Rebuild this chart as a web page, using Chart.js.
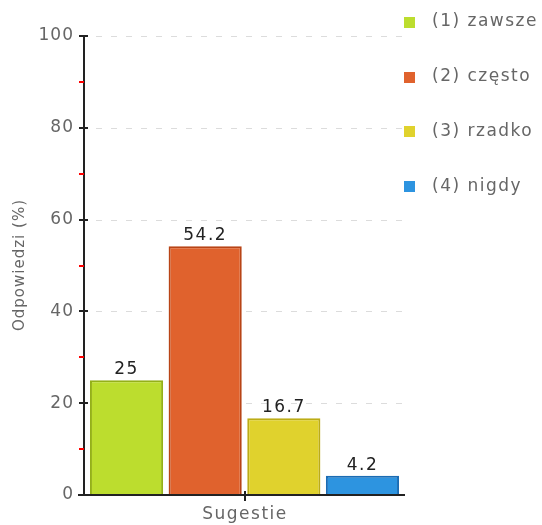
<!DOCTYPE html>
<html>
<head>
<meta charset="utf-8">
<script src="https://cdn.jsdelivr.net/npm/chart.js@4"></script>
<style>
  html, body { margin: 0; padding: 0; background: #fff; }
  #wrap { width: 542px; height: 525px; }
</style>
</head>
<body>
<div id="wrap"><canvas id="chart"></canvas></div>
<script>
'use strict';

const categories = ['Sugestie'];
const seriesNames = ['(1) zawsze', '(2) często', '(3) rzadko', '(4) nigdy'];
const seriesValues = [[25], [54.2], [16.7], [4.2]];
const fillColors = ['#bcdd2e', '#e0622d', '#e0d22d', '#2d94e0'];
const edgeColors = ['#94b018', '#b84416', '#bcac16', '#1a6cb4'];
const yTicks = [0, 20, 40, 60, 80, 100];
const yMinorTicks = [10, 30, 50, 70, 90];
const yTitle = 'Odpowiedzi (%)';

const FONT = 'DejaVu Sans, Verdana, sans-serif';

// letter spacing for the tick labels (canvas state is reset on resize)
const spacing = {
    id: 'spacing',
    beforeLayout(chart) { chart.ctx.letterSpacing = '1px'; },
    beforeDraw(chart) { chart.ctx.letterSpacing = '1px'; }
};

// dashed grid, axis ticks, titles, value labels and legend
const extras = {
    id: 'extras',
    beforeDatasetsDraw(chart) {
        const ctx = chart.ctx;
        const y = chart.scales.y;
        const area = chart.chartArea;
        ctx.save();
        ctx.strokeStyle = '#dcdcdc';
        ctx.lineWidth = 1;
        ctx.setLineDash([6, 9]);
        yTicks.slice(1).forEach((v) => {
            const py = Math.round(y.getPixelForValue(v)) + 0.5;
            ctx.beginPath();
            ctx.moveTo(area.left + 12, py);
            ctx.lineTo(area.right, py);
            ctx.stroke();
        });
        ctx.restore();
    },
    afterDraw(chart) {
        const ctx = chart.ctx;
        const y = chart.scales.y;
        const x = chart.scales.x;
        const area = chart.chartArea;
        ctx.save();
        ctx.lineWidth = 2;
        // axes
        ctx.strokeStyle = '#222';
        ctx.beginPath();
        ctx.moveTo(area.left, area.top);
        ctx.lineTo(area.left, area.bottom);
        ctx.moveTo(area.left - 6, area.bottom);
        ctx.lineTo(area.right, area.bottom);
        ctx.stroke();
        // major ticks
        yTicks.forEach((v) => {
            const py = Math.round(y.getPixelForValue(v));
            ctx.beginPath();
            ctx.moveTo(area.left - 5, py);
            ctx.lineTo(area.left + 4, py);
            ctx.stroke();
        });
        const cx = Math.round(x.getPixelForValue(0));
        ctx.beginPath();
        ctx.moveTo(cx, area.bottom - 4);
        ctx.lineTo(cx, area.bottom + 6);
        ctx.stroke();
        // minor ticks
        ctx.strokeStyle = '#ff0000';
        yMinorTicks.forEach((v) => {
            const py = Math.round(y.getPixelForValue(v));
            ctx.beginPath();
            ctx.moveTo(area.left - 5, py);
            ctx.lineTo(area.left, py);
            ctx.stroke();
        });
        // axis titles
        ctx.fillStyle = '#666';
        ctx.letterSpacing = '1.5px';
        ctx.font = '17px ' + FONT;
        ctx.textAlign = 'center';
        ctx.textBaseline = 'middle';
        ctx.fillText(categories[0], cx, 515);
        ctx.save();
        ctx.translate(20, 265);
        ctx.rotate(-Math.PI / 2);
        ctx.letterSpacing = '1px';
        ctx.font = '15px ' + FONT;
        ctx.fillText(yTitle, 0, 0);
        ctx.restore();
        // value labels
        ctx.fillStyle = '#222';
        ctx.font = '17px ' + FONT;
        ctx.textBaseline = 'alphabetic';
        chart.data.datasets.forEach((ds, i) => {
            chart.getDatasetMeta(i).data.forEach((bar, j) => {
                ctx.fillText(String(ds.data[j]), bar.x, bar.y - 6);
            });
        });
        // legend
        ctx.textAlign = 'left';
        ctx.textBaseline = 'middle';
        chart.data.datasets.forEach((ds, i) => {
            const ly = 22 + i * 54.7;
            ctx.fillStyle = ds.backgroundColor;
            ctx.fillRect(404, Math.round(ly - 5), 11, 11);
            ctx.fillStyle = '#666';
            ctx.fillText(ds.label, 432, ly);
        });
        ctx.restore();
    }
};

const datasets = seriesNames.map((name, i) => ({
    label: name,
    data: seriesValues[i],
    backgroundColor: fillColors[i],
    borderColor: edgeColors[i],
    borderWidth: 2,
    categoryPercentage: 0.98,
    barPercentage: 0.93
}));

new Chart(document.getElementById('chart'), {
    type: 'bar',
    data: { labels: categories, datasets: datasets },
    options: {
        responsive: true,
        maintainAspectRatio: false,
        animation: false,
        layout: { padding: { top: 36, right: 137, bottom: 0, left: 0 } },
        plugins: {
            legend: { display: false },
            tooltip: { enabled: false }
        },
        scales: {
            x: {
                grid: { display: false, drawTicks: false },
                border: { display: false },
                ticks: { display: false },
                afterFit(scale) { scale.height = 30; }
            },
            y: {
                min: 0,
                max: 100,
                afterBuildTicks(scale) {
                    scale.ticks = yTicks.map((v) => ({ value: v }));
                },
                afterFit(scale) { scale.width = 84; },
                grid: { display: false, drawTicks: false },
                border: { display: false },
                ticks: {
                    color: '#666',
                    font: { family: FONT, size: 17 },
                    padding: 10
                }
            }
        }
    },
    plugins: [spacing, extras]
});
</script>
</body>
</html>
